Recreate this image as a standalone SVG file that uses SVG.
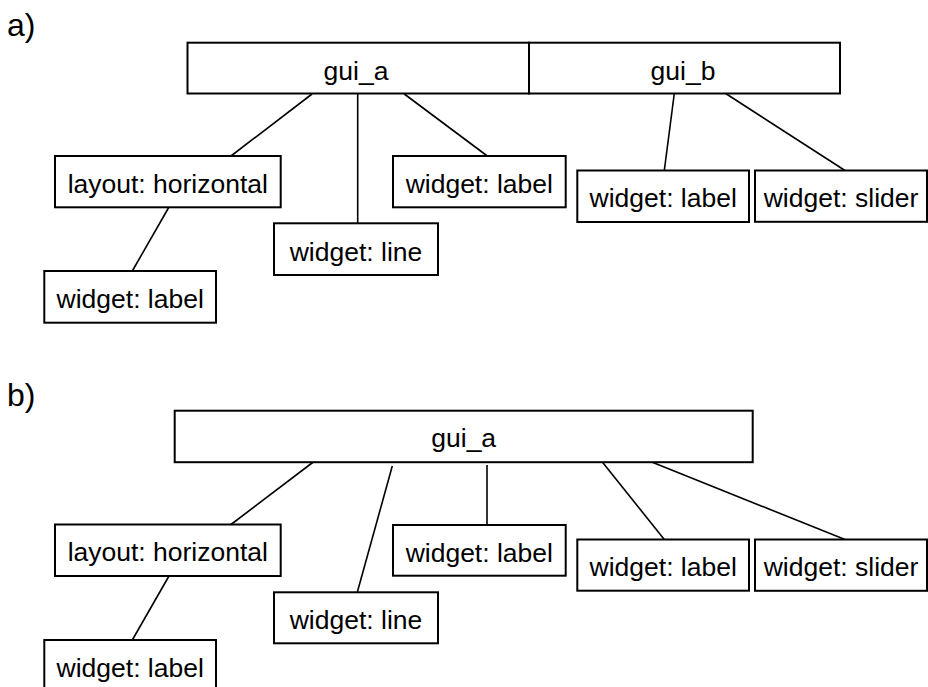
<svg xmlns="http://www.w3.org/2000/svg" width="928" height="687" viewBox="0 0 928 687">
<style>
  .box { fill: #ffffff; stroke: #000000; stroke-width: 2; }
  .lbl { font-family: "Liberation Sans", Arial, sans-serif; font-size: 26.5px; fill: #000000; text-anchor: middle; }
  .tag { font-family: "Liberation Sans", Arial, sans-serif; font-size: 32px; fill: #000000; }
  .conn line { stroke: #000000; stroke-width: 1.6; fill: none; }
</style>
<rect x="0" y="0" width="928" height="687" fill="#ffffff"/>
<text class="tag" x="7" y="36">a)</text>
<text class="tag" x="7" y="406">b)</text>

<g id="connectors" class="conn">
  <line x1="312" y1="94" x2="231" y2="156"/>
  <line x1="169" y1="207" x2="132.3" y2="271"/>
  <line x1="357.7" y1="94" x2="357.7" y2="223"/>
  <line x1="404.3" y1="94" x2="487.3" y2="156"/>
  <line x1="674.3" y1="93.5" x2="664.3" y2="170.5"/>
  <line x1="725.7" y1="93.5" x2="845" y2="170.5"/>

  <line x1="313.3" y1="462" x2="231" y2="524.5"/>
  <line x1="169" y1="576" x2="132.3" y2="640"/>
  <line x1="392.3" y1="466" x2="357.3" y2="592.3"/>
  <line x1="487" y1="465" x2="487" y2="525"/>
  <line x1="602.3" y1="462" x2="664.3" y2="539.5"/>
  <line x1="651.7" y1="462" x2="845" y2="539.5"/>
</g>

<g id="a_gui_a">
  <rect class="box" x="187.5" y="42.7" width="341.5" height="50.8"/>
  <text class="lbl" x="356" y="80">gui_a</text>
</g>
<g id="a_gui_b">
  <rect class="box" x="529" y="42.7" width="311" height="50.8"/>
  <text class="lbl" x="683" y="80">gui_b</text>
</g>
<g id="a_layout">
  <rect class="box" x="55" y="156" width="225.7" height="51.3"/>
  <text class="lbl" x="167.8" y="192.7">layout: horizontal</text>
</g>
<g id="a_label1">
  <rect class="box" x="44.3" y="271" width="171.7" height="51.7"/>
  <text class="lbl" x="130.2" y="308">widget: label</text>
</g>
<g id="a_line">
  <rect class="box" x="274" y="223.3" width="164" height="51.7"/>
  <text class="lbl" x="356" y="260.5">widget: line</text>
</g>
<g id="a_label2">
  <rect class="box" x="393" y="156" width="172.7" height="51.3"/>
  <text class="lbl" x="479.3" y="192.7">widget: label</text>
</g>
<g id="a_label3">
  <rect class="box" x="577.3" y="170.5" width="171.7" height="51.5"/>
  <text class="lbl" x="663.2" y="207.3">widget: label</text>
</g>
<g id="a_slider">
  <rect class="box" x="755" y="170.5" width="172" height="51.3"/>
  <text class="lbl" x="841" y="207.3">widget: slider</text>
</g>

<g id="b_gui_a">
  <rect class="box" x="174.7" y="410.7" width="578" height="51.5"/>
  <text class="lbl" x="463.7" y="447">gui_a</text>
</g>
<g id="b_layout">
  <rect class="box" x="55" y="524.5" width="225.7" height="51.5"/>
  <text class="lbl" x="167.8" y="561.3">layout: horizontal</text>
</g>
<g id="b_label1">
  <rect class="box" x="44.3" y="640" width="171.7" height="52"/>
  <text class="lbl" x="130.2" y="677">widget: label</text>
</g>
<g id="b_line">
  <rect class="box" x="274" y="592.3" width="164" height="51"/>
  <text class="lbl" x="356" y="629">widget: line</text>
</g>
<g id="b_label2">
  <rect class="box" x="393" y="525" width="172.7" height="50.7"/>
  <text class="lbl" x="479.3" y="561.5">widget: label</text>
</g>
<g id="b_label3">
  <rect class="box" x="577.3" y="539.5" width="171.7" height="51.2"/>
  <text class="lbl" x="663.2" y="576.3">widget: label</text>
</g>
<g id="b_slider">
  <rect class="box" x="755" y="539.5" width="172" height="51.3"/>
  <text class="lbl" x="841" y="576.3">widget: slider</text>
</g>
</svg>
